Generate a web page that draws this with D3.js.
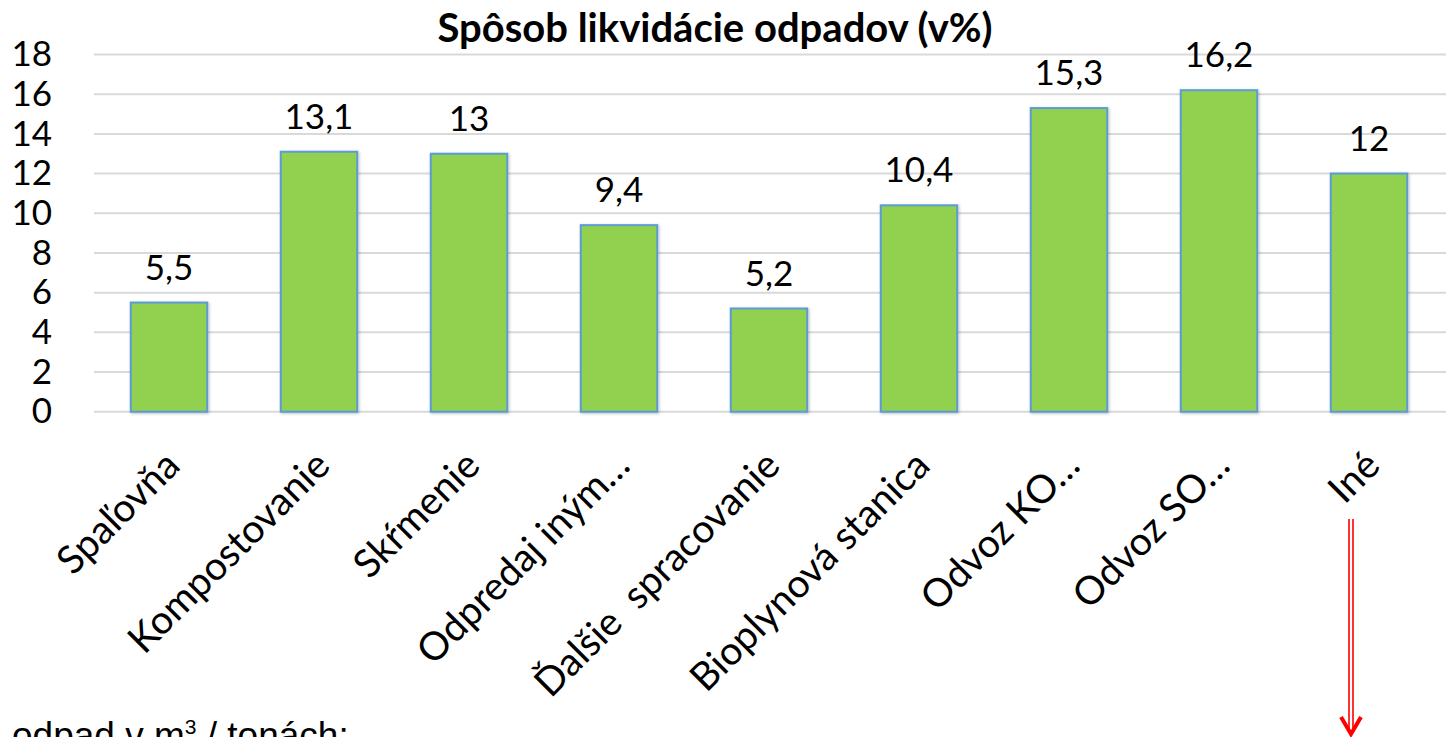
<!DOCTYPE html>
<html>
<head>
    <meta charset="utf-8">
    <script src="https://d3js.org/d3.v7.min.js"></script>
    <style>
        body{
            margin: 0;
            background: #fff;
        }
        .chart-wrap text{
            font-family: Lato, "Open Sans", sans-serif;
            fill: #000;
        }
    </style>
    <title>Spôsob likvidácie odpadov</title>
</head>
<body>
    <div class="chart-wrap"></div>

    <script>
    var categories = ["Spaľovňa", "Kompostovanie", "Skŕmenie", "Odpredaj iným…", "Ďalšie  spracovanie",
        "Bioplynová stanica", "Odvoz KO…", "Odvoz SO…", "Iné"];
    var values = [5.5, 13.1, 13, 9.4, 5.2, 10.4, 15.3, 16.2, 12];
    var yTicks = [0, 2, 4, 6, 8, 10, 12, 14, 16, 18];

    var w = 1446,
        h = 737;

    var svg = d3.select(".chart-wrap").append("svg")
        .attr("width", w)
        .attr("height", h);

    var defs = svg.append("defs");

    var shadow = defs.append("filter")
        .attr("id", "bar-shadow")
        .attr("x", "-20%").attr("y", "-20%")
        .attr("width", "140%").attr("height", "140%");
    shadow.append("feDropShadow")
        .attr("dx", 1).attr("dy", 1)
        .attr("stdDeviation", 1.5)
        .attr("flood-color", "#000")
        .attr("flood-opacity", 0.25);

    var x = d3.scaleBand()
        .domain(categories)
        .range([94, 1444])
        .paddingInner(0.49)
        .paddingOuter(0.245);

    var y = d3.scaleLinear()
        .domain([0, 18])
        .range([411.7, 54.5]);

    // title
    svg.append("text")
        .attr("x", 715)
        .attr("y", 42)
        .attr("text-anchor", "middle")
        .style("font-size", "40px")
        .style("font-weight", "bold")
        .text("Spôsob likvidácie odpadov (v%)");

    // gridlines
    svg.append("g")
        .selectAll("line")
        .data(yTicks)
        .enter().append("line")
        .attr("x1", 94)
        .attr("x2", w)
        .attr("y1", function (d) { return y(d); })
        .attr("y2", function (d) { return y(d); })
        .style("stroke", "#d9d9d9")
        .style("stroke-width", 2);

    // y axis labels
    var yAxis = d3.axisLeft(y).tickValues(yTicks).tickSize(0).tickPadding(0);
    var yg = svg.append("g")
        .attr("transform", "translate(52,0)")
        .call(yAxis);
    yg.select(".domain").remove();
    yg.selectAll("text")
        .style("font-size", "35px")
        .style("font-family", "Lato, sans-serif")
        .attr("fill", "#000");

    // bars
    svg.append("g")
        .selectAll("rect")
        .data(values)
        .enter().append("rect")
        .attr("x", function (d, i) { return x(categories[i]); })
        .attr("y", function (d) { return y(d); })
        .attr("width", x.bandwidth())
        .attr("height", function (d) { return y(0) - y(d); })
        .attr("filter", "url(#bar-shadow)")
        .style("fill", "#92d050")
        .style("stroke", "#5b9bd5")
        .style("stroke-width", 2);

    // value labels
    svg.append("g")
        .selectAll("text")
        .data(values)
        .enter().append("text")
        .attr("x", function (d, i) { return x(categories[i]) + x.bandwidth() / 2; })
        .attr("y", function (d) { return y(d) - 23; })
        .attr("text-anchor", "middle")
        .style("font-size", "35px")
        .text(function (d) { return String(d).replace(".", ","); });

    // category labels
    var xAxis = d3.axisBottom(x).tickSize(0).tickPadding(0);
    var xg = svg.append("g")
        .attr("transform", "translate(0,411.7)")
        .call(xAxis);
    xg.select(".domain").remove();
    xg.selectAll("text")
        .attr("x", 0)
        .attr("y", 0)
        .attr("dy", 0)
        .attr("text-anchor", "end")
        .attr("transform", "translate(13,56) rotate(-45)")
        .style("font-size", "39px")
        .style("font-family", "Lato, sans-serif")
        .style("white-space", "pre")
        .attr("fill", "#000");

    // note under the chart (cut by the bottom edge, as in the original)
    svg.append("text")
        .attr("x", 12)
        .attr("y", 748)
        .style("font-family", "'Liberation Sans', Arial, sans-serif")
        .style("font-size", "37px")
        .html("odpad v m<tspan dy='-14' style='font-size:21px'>3</tspan><tspan dy='14'> / tonách:</tspan>");

    // red arrow pointing down from "Iné"
    var ax = x("Iné") + x.bandwidth() / 2 - 18;
    var arrow = svg.append("g")
        .style("stroke", "#ff0000")
        .style("fill", "none");
    arrow.append("line")
        .attr("x1", ax - 2).attr("x2", ax - 2)
        .attr("y1", 519).attr("y2", 733)
        .style("stroke-width", 1.6);
    arrow.append("line")
        .attr("x1", ax + 2).attr("x2", ax + 2)
        .attr("y1", 519).attr("y2", 733)
        .style("stroke-width", 1.6);
    arrow.append("path")
        .attr("d", "M" + (ax - 10) + ",717 L" + ax + ",734 L" + (ax + 10) + ",717")
        .style("stroke-width", 4);
    </script>
</body>
</html>
